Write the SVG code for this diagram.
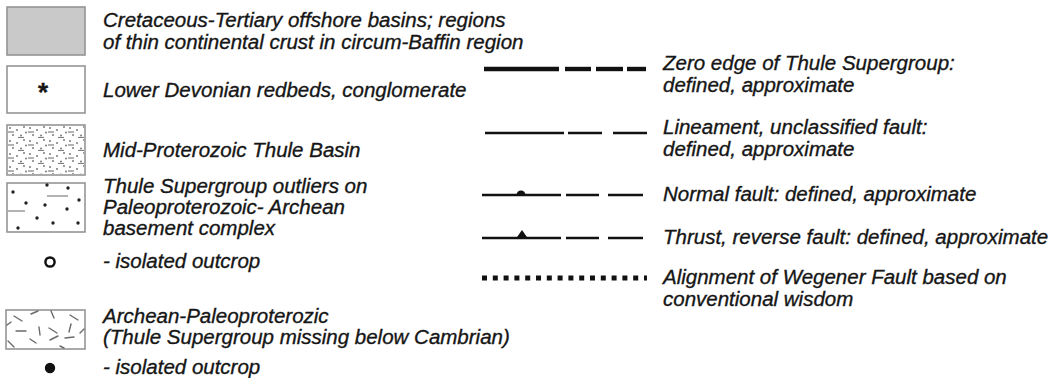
<svg xmlns="http://www.w3.org/2000/svg" width="1053" height="378" viewBox="0 0 1053 378">
  <defs>
    <style>
      text { font-family: "Liberation Sans", Arial, sans-serif; font-style: italic; font-size: 20.5px; fill: #161616; stroke: #161616; stroke-width: 0.35; }
      .box { fill: #fff; stroke: #959595; stroke-width: 1.6; }
      .sym { stroke: #111; fill: none; stroke-linecap: butt; }
      .tick { stroke: #6a6a6a; stroke-width: 1.4; stroke-linecap: round; }
      .fine { stroke: #808080; stroke-width: 1.2; }
      .dot { fill: #222; }
      .gdot { fill: #7a7a7a; }
    </style>
    <!-- fine stipple with short dashes for the Thule Basin fill -->
    <pattern id="stipple" x="7" y="125" width="20" height="13" patternUnits="userSpaceOnUse">
      <circle class="gdot" cx="3" cy="3" r="1"/>
      <circle class="gdot" cx="10" cy="5" r="1"/>
      <circle class="gdot" cx="17" cy="2" r="1"/>
      <circle class="gdot" cx="6" cy="10" r="1"/>
      <circle class="gdot" cx="14" cy="10.5" r="1"/>
      <circle class="gdot" cx="19" cy="7.5" r="1"/>
      <line class="fine" x1="1" y1="7" x2="7" y2="7"/>
      <line class="fine" x1="11" y1="12.5" x2="17" y2="12.5"/>
    </pattern>
  </defs>

  <rect width="1053" height="378" fill="#fff"/>

  <!-- left column: area units -->
  <g id="offshore-basins">
    <rect x="7" y="7" width="78" height="48" fill="#c9c9c9" stroke="#949494" stroke-width="1.6"/>
    <text x="103" y="27">Cretaceous-Tertiary offshore basins; regions</text>
    <text x="103" y="49">of thin continental crust in circum-Baffin region</text>
  </g>

  <g id="devonian-redbeds">
    <rect class="box" x="7" y="66" width="78" height="47"/>
    <text x="43" y="101" text-anchor="middle" style="font-style:normal;font-weight:bold;font-size:26px">*</text>
    <text x="103" y="97">Lower Devonian redbeds, conglomerate</text>
  </g>

  <g id="thule-basin">
    <rect class="box" x="7" y="125" width="78" height="50"/>
    <rect x="8" y="126" width="76" height="48" fill="url(#stipple)"/>
    <text x="103" y="157">Mid-Proterozoic Thule Basin</text>
  </g>

  <g id="thule-outliers">
    <rect class="box" x="7" y="183" width="78" height="49"/>
    <circle class="dot" cx="13" cy="192" r="1.7"/>
    <circle class="dot" cx="47" cy="185" r="1.7"/>
    <circle class="dot" cx="68" cy="188" r="1.7"/>
    <circle class="dot" cx="26" cy="203" r="1.7"/>
    <circle class="dot" cx="45" cy="205" r="1.7"/>
    <circle class="dot" cx="79" cy="200" r="1.7"/>
    <circle class="dot" cx="67" cy="209" r="1.7"/>
    <circle class="dot" cx="37" cy="218" r="1.7"/>
    <circle class="dot" cx="53" cy="223" r="1.7"/>
    <circle class="dot" cx="78" cy="223" r="1.7"/>
    <circle class="dot" cx="18" cy="228" r="1.7"/>
    <line class="fine" x1="47" y1="196" x2="68" y2="196"/>
    <line class="fine" x1="8" y1="211" x2="25" y2="211"/>
    <text x="103" y="193">Thule Supergroup outliers on</text>
    <text x="103" y="214">Paleoproterozoic- Archean</text>
    <text x="103" y="235">basement complex</text>
  </g>

  <g id="outlier-outcrop">
    <circle cx="50" cy="262" r="4.6" fill="none" stroke="#111" stroke-width="2.5"/>
    <text x="103" y="268">- isolated outcrop</text>
  </g>

  <g id="archean-basement">
    <rect class="box" x="6" y="310" width="79" height="39"/>
    <line class="tick" x1="14" y1="316" x2="22" y2="321"/>
    <line class="tick" x1="31" y1="314" x2="38" y2="311"/>
    <line class="tick" x1="51" y1="311" x2="54" y2="318"/>
    <line class="tick" x1="70" y1="315" x2="78" y2="320"/>
    <line class="tick" x1="39" y1="327" x2="40" y2="335"/>
    <line class="tick" x1="49" y1="328" x2="57" y2="333"/>
    <line class="tick" x1="71" y1="324" x2="69" y2="332"/>
    <line class="tick" x1="16" y1="331" x2="26" y2="331"/>
    <line class="tick" x1="30" y1="339" x2="36" y2="343"/>
    <line class="tick" x1="50" y1="340" x2="58" y2="336"/>
    <line class="tick" x1="65" y1="338" x2="74" y2="337"/>
    <line class="tick" x1="8" y1="341" x2="14" y2="347"/>
    <line class="tick" x1="80" y1="333" x2="84" y2="329"/>
    <line class="tick" x1="7" y1="325" x2="11" y2="322"/>
    <line class="tick" x1="60" y1="346" x2="64" y2="348"/>
    <text x="103" y="323">Archean-Paleoproterozic</text>
    <text x="103" y="344">(Thule Supergroup missing below Cambrian)</text>
  </g>

  <g id="basement-outcrop">
    <circle cx="50" cy="368" r="5.2" fill="#111"/>
    <text x="103" y="374">- isolated outcrop</text>
  </g>

  <!-- right column: line symbols -->
  <g id="zero-edge">
    <line class="sym" x1="484" y1="69" x2="559" y2="69" stroke-width="4.4"/>
    <line class="sym" x1="565" y1="69" x2="591" y2="69" stroke-width="4.4"/>
    <line class="sym" x1="596" y1="69" x2="623" y2="69" stroke-width="4.4"/>
    <line class="sym" x1="627" y1="69" x2="646" y2="69" stroke-width="4.4"/>
    <text x="663" y="70">Zero edge of Thule Supergroup:</text>
    <text x="663" y="92">defined, approximate</text>
  </g>

  <g id="lineament">
    <line class="sym" x1="485" y1="133" x2="564" y2="133" stroke-width="2.7"/>
    <line class="sym" x1="568" y1="133" x2="602" y2="133" stroke-width="2.7"/>
    <line class="sym" x1="613" y1="133" x2="647" y2="133" stroke-width="2.7"/>
    <text x="663" y="134">Lineament, unclassified fault:</text>
    <text x="663" y="156">defined, approximate</text>
  </g>

  <g id="normal-fault">
    <line class="sym" x1="482" y1="195" x2="561" y2="195" stroke-width="2.4"/>
    <line class="sym" x1="566" y1="195" x2="599" y2="195" stroke-width="2.4"/>
    <line class="sym" x1="608" y1="195" x2="643" y2="195" stroke-width="2.4"/>
    <path d="M516.5,195 A4.5,4.5 0 0 1 525.5,195 Z" fill="#111"/>
    <text x="663" y="201">Normal fault: defined, approximate</text>
  </g>

  <g id="thrust-fault">
    <line class="sym" x1="482" y1="238" x2="561" y2="238" stroke-width="2.4"/>
    <line class="sym" x1="566" y1="238" x2="599" y2="238" stroke-width="2.4"/>
    <line class="sym" x1="608" y1="238" x2="643" y2="238" stroke-width="2.4"/>
    <polygon points="516,238.5 522,230 528,238.5" fill="#111"/>
    <text x="663" y="244">Thrust, reverse fault: defined, approximate</text>
  </g>

  <g id="wegener-fault">
    <line class="sym" x1="482" y1="278" x2="647" y2="278" stroke-width="5" stroke-dasharray="5 5.8"/>
    <text x="663" y="284">Alignment of Wegener Fault based on</text>
    <text x="663" y="306">conventional wisdom</text>
  </g>
</svg>
